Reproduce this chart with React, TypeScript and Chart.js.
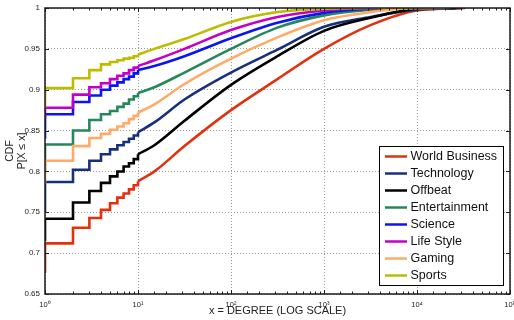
import React, { useEffect, useRef } from 'react';
import { Chart, registerables } from 'chart.js';

Chart.register(...registerables);

// ---------- data ----------
const SERIES_NAMES = ['World Business', 'Technology', 'Offbeat', 'Entertainment', 'Science', 'Life Style', 'Gaming', 'Sports'];
const SERIES_COLORS = ['#E2310E', '#16307C', '#000000', '#26875A', '#0A16F2', '#C400C8', '#FFAA68', '#BCBC00'];

// stepped part: degree 1..10 (CDF is a staircase here)
const STEP_X = [1, 2, 3, 4, 5, 6, 7, 8, 9, 10];
// lower end of the first vertical riser at x = 1
const START_LOW = [0.676, 0.75, 0.715, 0.80, 0.84, 0.865, 0.785, 0.878];
const WORLD_BUSINESS_STEPS = [0.712, 0.731, 0.743, 0.753, 0.761, 0.768, 0.773, 0.778, 0.783, 0.788];
const TECHNOLOGY_STEPS = [0.787, 0.802, 0.813, 0.821, 0.827, 0.832, 0.836, 0.840, 0.844, 0.848];
const OFFBEAT_STEPS = [0.742, 0.762, 0.776, 0.786, 0.794, 0.800, 0.806, 0.810, 0.815, 0.821];
const ENTERTAINMENT_STEPS = [0.833, 0.850, 0.863, 0.870, 0.874, 0.879, 0.883, 0.888, 0.892, 0.896];
const SCIENCE_STEPS = [0.870, 0.885, 0.893, 0.900, 0.905, 0.909, 0.913, 0.916, 0.920, 0.924];
const LIFE_STYLE_STEPS = [0.878, 0.894, 0.903, 0.908, 0.913, 0.917, 0.920, 0.924, 0.927, 0.929];
const GAMING_STEPS = [0.813, 0.831, 0.841, 0.846, 0.851, 0.855, 0.859, 0.864, 0.868, 0.872];
const SPORTS_STEPS = [0.902, 0.914, 0.924, 0.931, 0.934, 0.936, 0.938, 0.939, 0.941, 0.943];

// smooth part: degree 10 .. 10^4
const CURVE_X = [10, 15, 31.6, 100, 316, 1000, 3162, 10000];
const WORLD_BUSINESS_CURVE = [0.788, 0.800, 0.831, 0.875, 0.913, 0.950, 0.979, 0.997];
const TECHNOLOGY_CURVE = [0.848, 0.860, 0.888, 0.921, 0.949, 0.977, 0.989, 0.998];
const OFFBEAT_CURVE = [0.821, 0.832, 0.862, 0.906, 0.941, 0.972, 0.988, 0.999];
const ENTERTAINMENT_CURVE = [0.896, 0.903, 0.921, 0.950, 0.976, 0.991, 0.998, 1.0];
const SCIENCE_CURVE = [0.924, 0.929, 0.941, 0.963, 0.982, 0.994, 0.999, 1.0];
const LIFE_STYLE_CURVE = [0.929, 0.936, 0.950, 0.973, 0.989, 0.997, 1.0, 1.0];
const GAMING_CURVE = [0.872, 0.882, 0.907, 0.938, 0.964, 0.985, 0.995, 1.0];
const SPORTS_CURVE = [0.943, 0.950, 0.962, 0.983, 0.995, 0.999, 1.0, 1.0];
// maximum degree of each series (CDF = 1 there)
const END_X = [33000, 30000, 26000, 23000, 19000, 16500, 21000, 15000];

const ALL_STEPS = [WORLD_BUSINESS_STEPS, TECHNOLOGY_STEPS, OFFBEAT_STEPS, ENTERTAINMENT_STEPS, SCIENCE_STEPS, LIFE_STYLE_STEPS, GAMING_STEPS, SPORTS_STEPS];
const ALL_CURVES = [WORLD_BUSINESS_CURVE, TECHNOLOGY_CURVE, OFFBEAT_CURVE, ENTERTAINMENT_CURVE, SCIENCE_CURVE, LIFE_STYLE_CURVE, GAMING_CURVE, SPORTS_CURVE];

const X_MIN = 1;
const X_MAX = 100000;
const Y_MIN = 0.65;
const Y_MAX = 1;
const Y_STEP = 0.05;
const SUPERSCRIPTS = ['⁰', '¹', '²', '³', '⁴', '⁵', '⁶'];

const X_TITLE = 'x = DEGREE (LOG SCALE)';
const Y_TITLE = ['CDF', 'P[X ≤ x]'];

const FONT = "'Liberation Sans', Arial, Helvetica, sans-serif";

const isPow10 = (v: number) => {
  const e = Math.log10(v);
  return Math.abs(e - Math.round(e)) < 1e-9;
};

const framePlugin = {
  id: 'frameTicks',
  afterDatasetsDraw(chart: any) {
    const { ctx, chartArea } = chart;
    const { left, right, top, bottom } = chartArea;
    const xs = chart.scales.x;
    const ys = chart.scales.y;
    ctx.save();
    ctx.strokeStyle = '#1e1e1e';
    ctx.lineWidth = 1;
    ctx.beginPath();
    ys.ticks.forEach((t: any) => {
      const py = Math.round(ys.getPixelForValue(t.value)) + 0.5;
      ctx.moveTo(left, py);
      ctx.lineTo(left + 4, py);
      ctx.moveTo(right, py);
      ctx.lineTo(right - 4, py);
    });
    xs.ticks.forEach((t: any) => {
      const px = Math.round(xs.getPixelForValue(t.value)) + 0.5;
      const len = isPow10(t.value) ? 4 : 2.5;
      ctx.moveTo(px, bottom);
      ctx.lineTo(px, bottom - len);
      ctx.moveTo(px, top);
      ctx.lineTo(px, top + len);
    });
    ctx.stroke();
    ctx.lineWidth = 1.5;
    ctx.strokeStyle = '#1a1a1a';
    ctx.strokeRect(left, top, right - left, bottom - top);
    ctx.restore();
  },
  afterDraw(chart: any) {
    const { ctx } = chart;
    const boxL = 379, boxT = 146, boxW = 124, boxH = 139;
    ctx.save();
    ctx.fillStyle = '#ffffff';
    ctx.fillRect(boxL, boxT, boxW, boxH);
    ctx.strokeStyle = '#000000';
    ctx.lineWidth = 1;
    ctx.strokeRect(boxL + 0.5, boxT + 0.5, boxW, boxH);
    ctx.font = `12.5px ${FONT}`;
    ctx.textBaseline = 'middle';
    ctx.textAlign = 'left';
    SERIES_NAMES.forEach((name, i) => {
      const y = 156.5 + i * 17;
      ctx.strokeStyle = SERIES_COLORS[i];
      ctx.lineWidth = 2.5;
      ctx.beginPath();
      ctx.moveTo(385, y);
      ctx.lineTo(407, y);
      ctx.stroke();
      ctx.fillStyle = '#111111';
      ctx.fillText(name, 410.5, y + 0.5);
    });
    ctx.restore();
  },
};

export default function App() {
  const ref = useRef<HTMLCanvasElement | null>(null);

  useEffect(() => {
    if (!ref.current) return;
    const datasets: any[] = [];
    SERIES_NAMES.forEach((name, si) => {
      const steps = ALL_STEPS[si];
      const curve = ALL_CURVES[si];
      datasets.push({
        label: name,
        data: [{ x: STEP_X[0], y: START_LOW[si] }, ...STEP_X.map((x, i) => ({ x, y: steps[i] }))],
        borderColor: SERIES_COLORS[si],
        backgroundColor: SERIES_COLORS[si],
        borderWidth: 2.6,
        stepped: 'before',
        pointRadius: 0,
        fill: false,
        order: SERIES_NAMES.length - 1 - si,
      });
      datasets.push({
        label: name + ' (tail)',
        data: [...CURVE_X.map((x, i) => ({ x, y: curve[i] })), { x: END_X[si], y: 1 }],
        borderColor: SERIES_COLORS[si],
        backgroundColor: SERIES_COLORS[si],
        borderWidth: 2.6,
        cubicInterpolationMode: 'monotone',
        pointRadius: 0,
        fill: false,
        order: SERIES_NAMES.length - 1 - si,
      });
    });

    const chart = new Chart(ref.current, {
      type: 'line',
      data: { datasets },
      options: {
        animation: false,
        responsive: false,
        maintainAspectRatio: false,
        layout: { padding: { top: 8, right: 4, left: 0, bottom: 0 } },
        plugins: { legend: { display: false }, tooltip: { enabled: false } },
        elements: { point: { radius: 0 } },
        scales: {
          x: {
            type: 'logarithmic',
            min: X_MIN,
            max: X_MAX,
            position: 'bottom',
            grid: {
              color: (c: any) => (c.tick && isPow10(c.tick.value) ? '#9a9a9a' : 'rgba(0,0,0,0)'),
              lineWidth: 1,
              drawTicks: false,
            },
            border: { display: false, dash: [1, 2] },
            ticks: {
              autoSkip: false,
              maxRotation: 0,
              minRotation: 0,
              padding: 6,
              color: '#222222',
              font: { family: FONT, size: 7.5 },
              callback: (v: any) => {
                const n = Number(v);
                if (!isPow10(n)) return '';
                return '10' + SUPERSCRIPTS[Math.round(Math.log10(n))];
              },
            },
            title: {
              display: true,
              text: X_TITLE,
              color: '#222222',
              font: { family: FONT, size: 11 },
              padding: { top: 0, bottom: 2.4 },
            },
            afterFit: (s: any) => {
              s.height = 26;
              s.paddingLeft = 0;
              s.paddingRight = 0;
            },
          },
          y: {
            type: 'linear',
            min: Y_MIN,
            max: Y_MAX,
            grid: { color: '#9a9a9a', lineWidth: 1, drawTicks: false },
            border: { display: false, dash: [1, 2] },
            ticks: {
              stepSize: Y_STEP,
              padding: 5,
              color: '#222222',
              font: { family: FONT, size: 8 },
              callback: (v: any) => String(Number(Number(v).toFixed(2))),
            },
            title: {
              display: true,
              text: Y_TITLE,
              color: '#222222',
              font: { family: FONT, size: 10.5 },
              padding: { top: 3.7, bottom: 0 },
            },
            afterFit: (s: any) => {
              s.width = 45;
              s.paddingTop = 0;
              s.paddingBottom = 0;
            },
          },
        },
      },
      plugins: [framePlugin],
    } as any);

    return () => chart.destroy();
  }, []);

  return (
    <div style={{ position: 'fixed', left: 0, top: 0, width: 514, height: 320, background: '#ffffff' }}>
      <canvas ref={ref} width={514} height={320} style={{ display: 'block', width: 514, height: 320 }} />
    </div>
  );
}
